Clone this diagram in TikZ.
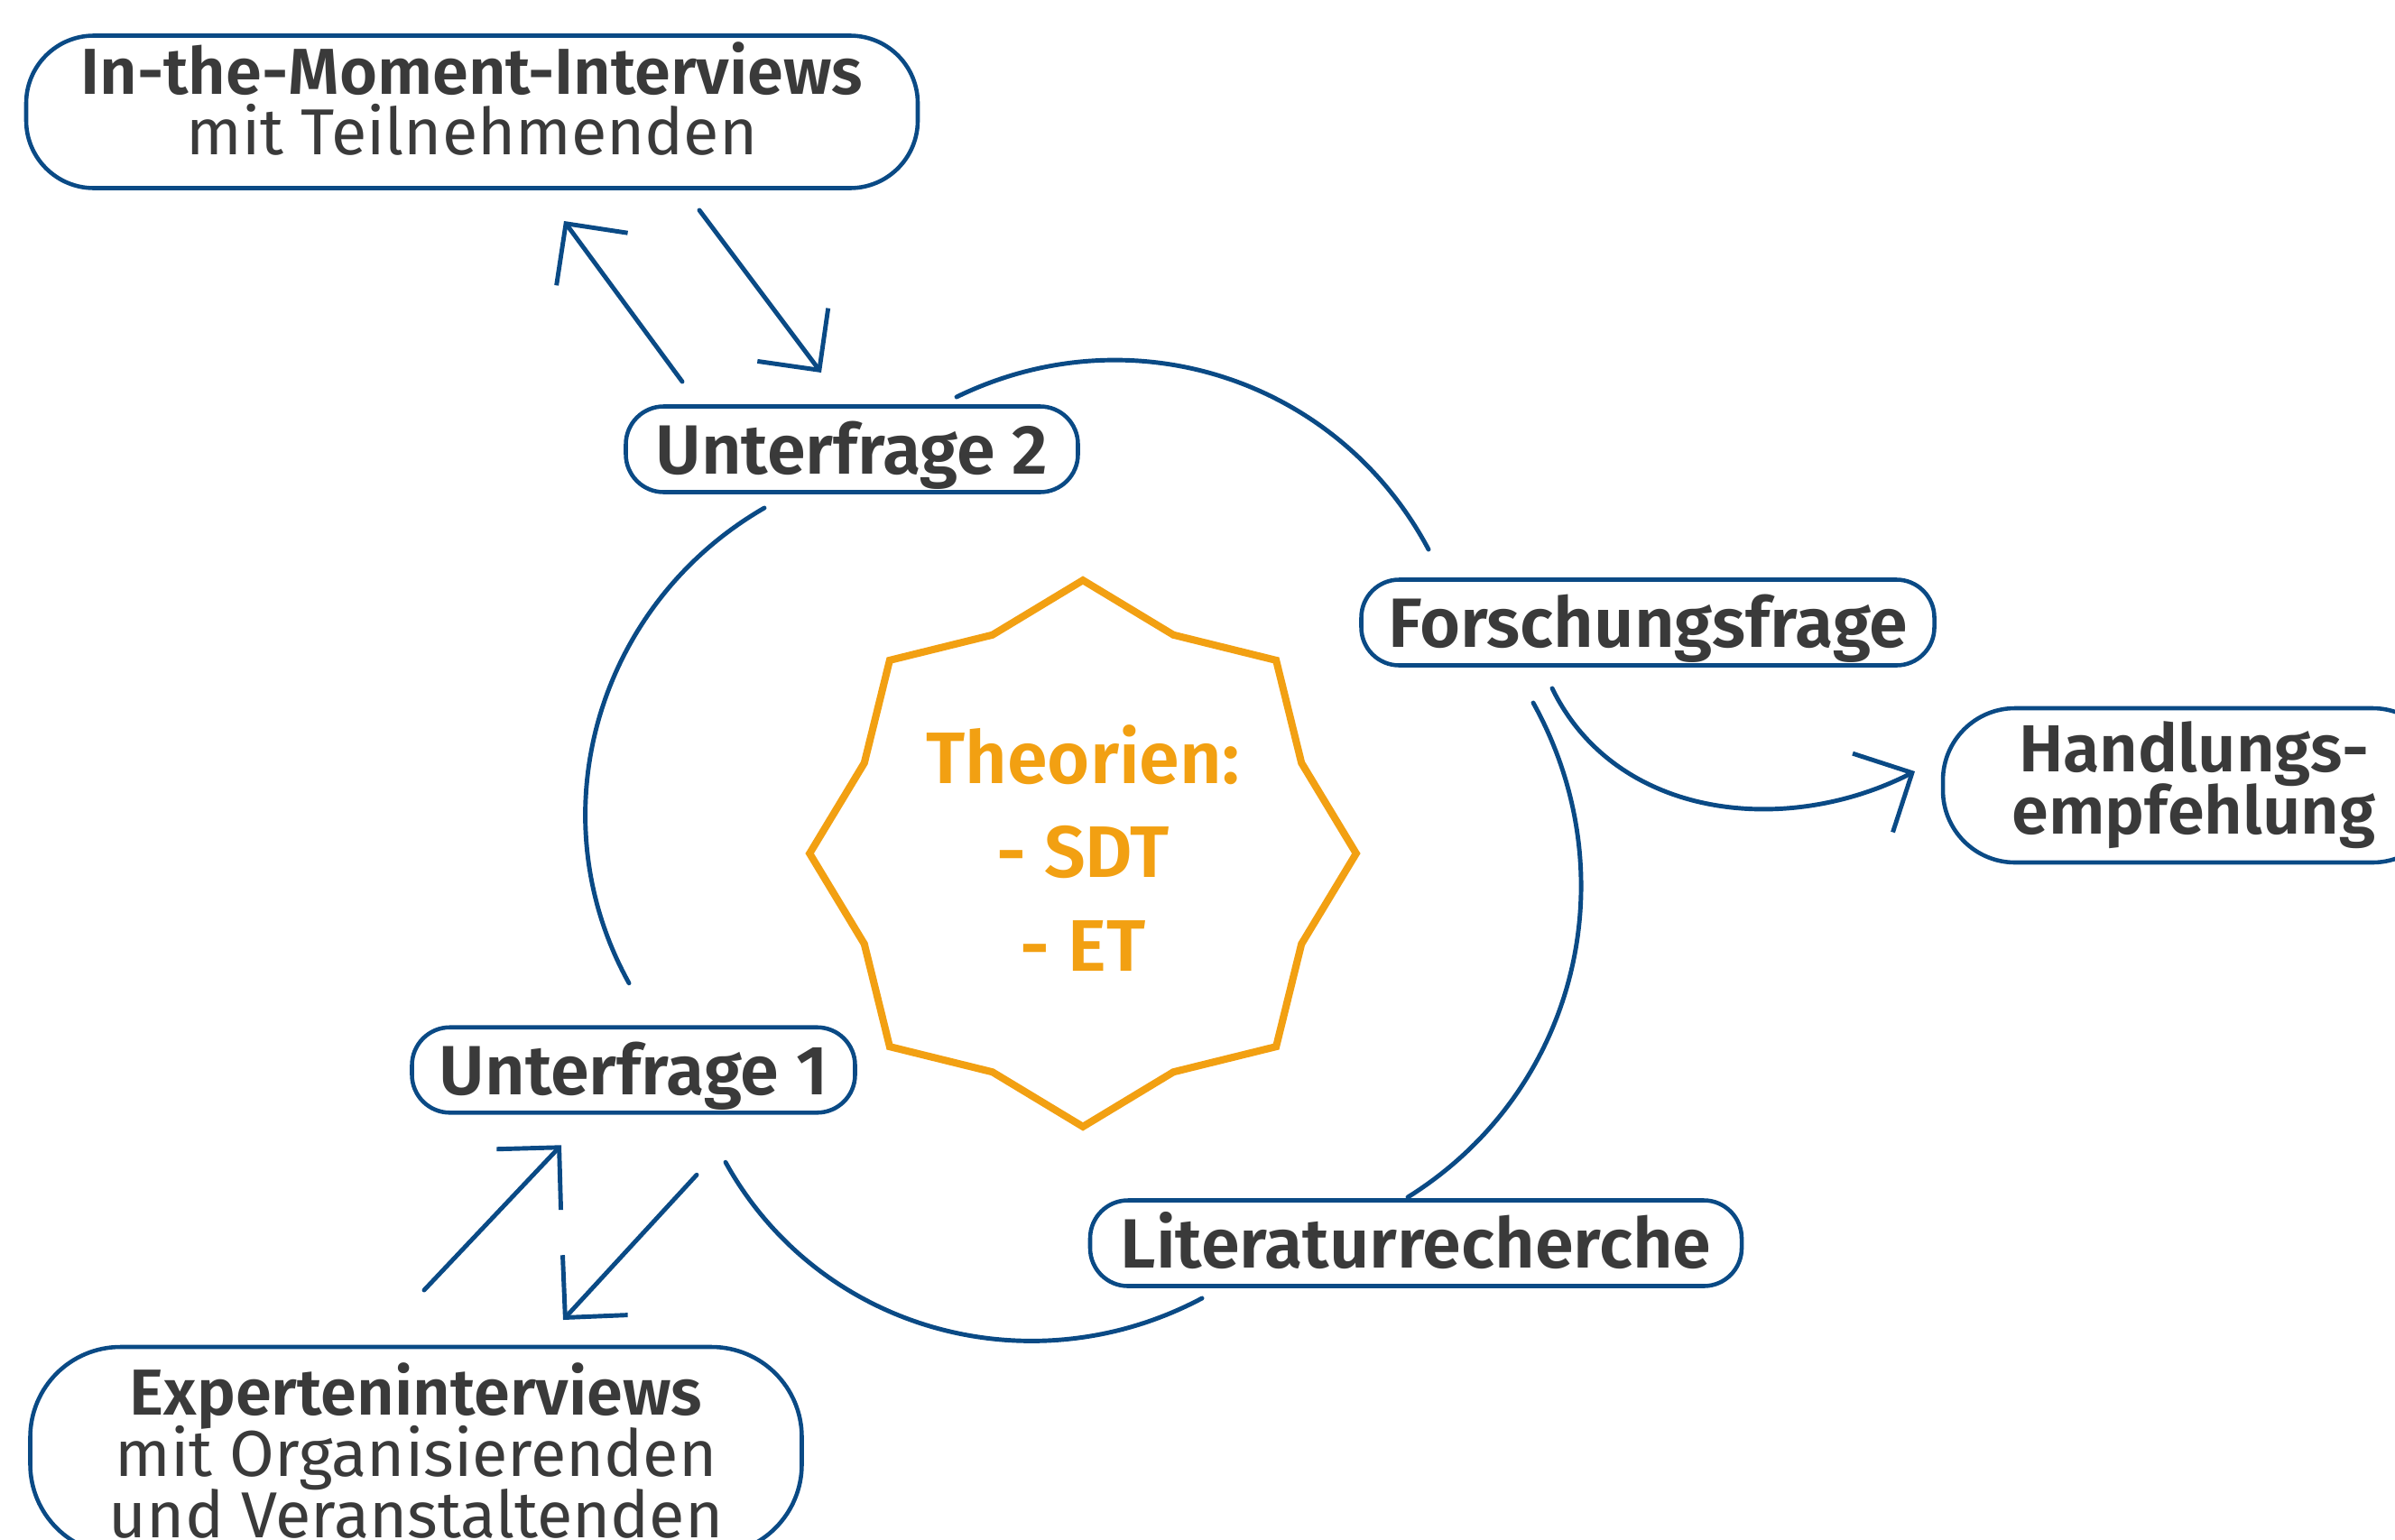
\documentclass[tikz,border=0pt]{standalone}
\usepackage{fontspec}
\setmainfont{Fira Sans}[BoldFont={Fira Sans SemiBold}]
\usepackage{xcolor}
\usetikzlibrary{
    shapes.geometric,
    arrows.meta,
    positioning,
    calc
}
\definecolor{navy}{HTML}{0A4A85}
\definecolor{amber}{HTML}{F2A012}
\definecolor{ink}{HTML}{3A3A3A}
% tight lines inside the boxes
\setlength{\lineskiplimit}{-10pt}

\begin{document}
\begin{tikzpicture}[
    box/.style={
        rectangle,
        rounded corners=4.2mm,
        minimum height=0.95cm,
        inner sep=0pt,
        outer sep=0pt,
        align=center,
        draw=navy,
        line width=1.3pt,
        text=ink,
        text height=21.4pt,
        text depth=5.5pt,
        font=\fontsize{22}{19}\selectfont\bfseries
    },
    bigbox/.style={
        box,
        rounded corners=7.5mm,
        text height=,
        text depth=,
        font=\fontsize{20.5}{19.3}\selectfont
    },
    theory/.style={
        star,
        star points=8,
        star point ratio=1.155,
        minimum size=6.04cm,
        align=center,
        draw=amber,
        line width=2.3pt,
        text=amber,
        font=\fontsize{23}{29.5}\selectfont\bfseries
    },
    link/.style={navy, line width=1.4pt, line cap=round},
    arrow/.style={link, -{Straight Barb[length=4.9mm, width=9.8mm]}}
]

\useasboundingbox (0,0) rectangle (26.54,-17.06);

% Theories in the middle
\node[theory, text depth=0.12cm] (theo) at (12.00,-9.46) {Theorien:\\- SDT\\- ET};

% Questions around the cycle
\node[box, minimum width=5.01cm] (uf2) at (9.44,-4.98) {Unterfrage 2};
\node[box, minimum width=6.35cm] (ff) at (18.26,-6.90) {Forschungsfrage};
\node[box, minimum width=4.91cm, minimum height=0.90cm] (uf1) at (7.02,-11.86) {Unterfrage 1};
\node[box, minimum width=7.22cm] (lit) at (15.69,-13.78) {Literaturrecherche};

% Interviews and outcome
\node[bigbox, minimum width=9.88cm, minimum height=1.69cm, text depth=0.3cm] (imi) at (5.23,-1.24)
    {\textbf{In-the-Moment-Interviews}\\mit Teilnehmenden};
\node[bigbox, minimum width=8.55cm, minimum height=2.30cm, rounded corners=10mm] (exp) at (4.61,-16.08)
    {\textbf{Experteninterviews}\\mit Organisierenden\\und Veranstaltenden};
\node[box, minimum width=5.56cm, minimum height=1.71cm, rounded corners=8mm, text height=, text depth=,
    font=\fontsize{21}{19.6}\selectfont\bfseries] (he) at (24.31,-8.705)
    {Handlungs-\\empfehlung};

% Cycle arcs
\draw[link] ([shift={(1.16,0.105)}]uf2.north) to[out=26, in=118] ([shift={(0.745,0.335)}]ff.north west);
\draw[link] ([shift={(-1.27,-0.415)}]ff.south) to[out=-61, in=32] ([shift={(-0.09,0.035)}]lit.north);
\draw[link] ([shift={(-2.37,-0.135)}]lit.south) to[out=208, in=-61] ([shift={(1.02,-0.55)}]uf1.south);
\draw[link] ([shift={(-0.05,0.49)}]uf1.north) to[out=119, in=210] ([shift={(-0.97,-0.175)}]uf2.south);

% Interview loops
\draw[arrow] ([shift={(-1.88,0.275)}]uf2.north) -- ([shift={(1.02,-0.365)}]imi.south);
\draw[arrow] ([shift={(2.52,-0.245)}]imi.south) -- ([shift={(-0.34,0.375)}]uf2.north);
\draw[arrow] ([shift={(0.09,0.63)}]exp.north) -- ([shift={(-0.80,-0.36)}]uf1.south);
\draw[arrow] ([shift={(0.70,-0.69)}]uf1.south) -- ([shift={(1.63,0.30)}]exp.north);

% Outcome
\draw[arrow] ([shift={(-1.06,-0.255)}]ff.south) to[out=-64, in=207] ([shift={(-0.31,0.155)}]he.west);

\end{tikzpicture}
\end{document}
